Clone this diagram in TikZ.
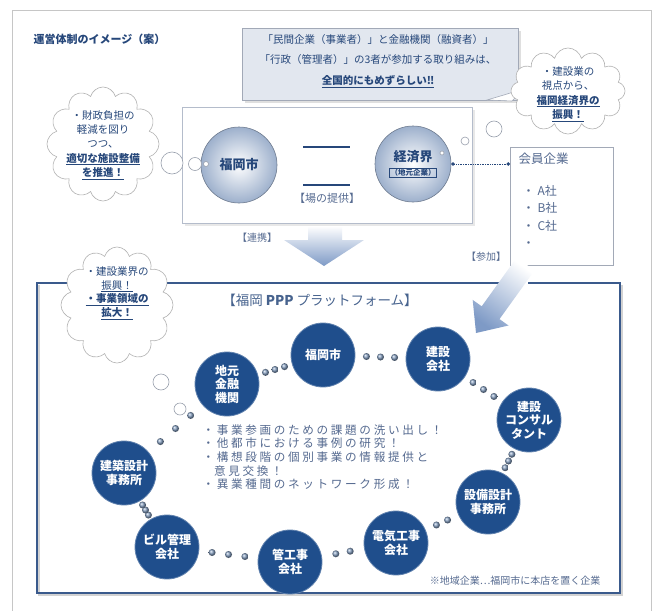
\documentclass[tikz,border=0pt]{standalone}
\usepackage{fontspec}
\setmainfont{Noto Sans CJK JP}
\usetikzlibrary{shapes.symbols,arrows.meta,calc}

\definecolor{navy}{HTML}{26477A}
\definecolor{platblue}{HTML}{1F4E8C}
\definecolor{framegray}{HTML}{C6C6C6}
\definecolor{boxgray}{HTML}{B4BCCB}
\definecolor{calloutfill}{HTML}{E2E7EF}
\definecolor{softtext}{HTML}{556A90}
\definecolor{spheredge}{HTML}{9DB0CC}
\definecolor{arrowblue}{HTML}{7E9AC6}
\definecolor{platline}{HTML}{3A5A8C}

\tikzset{
  platnode/.style={circle, fill=platblue, draw=platblue!70!white, line width=0.8pt,
    minimum size=64pt, inner sep=0pt, text=white,
    font=\bfseries\fontsize{12}{13.5}\selectfont, align=center},
  spherenode/.style={circle, draw=spheredge!70!black, line width=0.6pt,
    inner color=white, outer color=spheredge, minimum size=76pt, inner sep=0pt,
    text=navy, font=\bfseries\fontsize{13}{15}\selectfont, align=center},
  linkdot/.style={circle, inner sep=0pt, minimum size=#1, ball color=platblue!55},
  thought/.style={circle, draw=boxgray!85!black, fill=white, line width=0.6pt,
    inner sep=0pt, minimum size=#1},
  cloudbg/.style={cloud, cloud puffs=12, cloud ignores aspect, draw=gray!60,
    fill=white, line width=0.6pt, inner sep=0pt},
  cloudtxt/.style={text=navy, font=\fontsize{10.5}{14.3}\selectfont, align=center},
  lbl/.style={text=softtext, font=\fontsize{10}{12}\selectfont},
  plainbox/.style={draw=boxgray, fill=white, line width=0.7pt, inner sep=0pt, anchor=north west},
}

\begin{document}
\begin{tikzpicture}[x=1pt,y=-1pt]
\useasboundingbox (0,0) rectangle (658,610);
\fill[white] (0,0) rectangle (658,610);

% outer frame
\draw[framegray, line width=1pt] (12,620) -- (12,11) -- (651,11) -- (651,620);

% title
\node[anchor=west, text=navy, font=\bfseries\fontsize{11}{13}\selectfont] (title) at (30,39) {運営体制のイメージ（案）};

% top callout
\fill[gray!25] (245,31) rectangle (521,103);
\node[plainbox, draw=boxgray!90!black, fill=calloutfill, minimum width=276pt, minimum height=72pt] (callout) at (242,28) {};
\draw[boxgray!90!black, fill=white, line width=0.6pt] (487,100) .. controls (500,96) and (512,93) .. (524,88) .. controls (519,94) and (515,98) .. (512,101) -- cycle;
\node[text=navy, align=center, font=\fontsize{10.5}{20.5}\selectfont] (calltext) at (378,61)
  {「民間企業（事業者）」と金融機関（融資者）」\\「行政（管理者）」の3者が参加する取り組みは、\\\underline{\textbf{全国的にもめずらしい‼}}};

% inner box
\fill[gray!18] (185,110) rectangle (475,226);
\node[plainbox, minimum width=290pt, minimum height=116pt] (inner) at (182,107) {};

% left cloud
\node[cloudbg, minimum width=112pt, minimum height=114pt] (cloudL) at (103,144) {};
\node[cloudtxt] (cloudLt) at (103,145) {・財政負担の\\軽減を図り\\つつ、\\\underline{\textbf{適切な施設整備}}\\\underline{\textbf{を推進！}}};

% spheres
\node[spherenode] (city) at (239,165) {福岡市};
\node[spherenode] (econ) at (413,164) {経済界\\[-1pt]{\setlength\fboxsep{0.8pt}\fontsize{7.5}{8}\selectfont\fbox{（地元企業）}}};

\node[thought=22pt] (b1) at (172,163) {};
\node[thought=13pt] (b2) at (195,164) {};
\node[thought=5pt] (b3) at (206,164) {};

% right cloud
\node[cloudbg, minimum width=114pt, minimum height=86pt] (cloudR) at (568,91) {};
\node[cloudtxt] (cloudRt) at (568,94) {・建設業の\\視点から、\\\underline{\textbf{福岡経済界の}}\\\underline{\textbf{振興！}}};
\node[thought=4pt] (r1) at (442,153) {};
\node[thought=8pt] (r2) at (465,141) {};
\node[thought=16pt] (r3) at (494,129) {};

% equal bars and labels
\draw[navy, line width=2.6pt] (303,147) -- (350,147);
\draw[navy, line width=2.6pt] (303,185) -- (350,185);
\node[lbl, font=\fontsize{11}{13}\selectfont] (place) at (327,198) {【場の提供】};
\node[lbl] (renkei) at (257,238) {【連携】};
\node[lbl] (sanka) at (486,257) {【参加】};

% member box
\node[plainbox, draw=boxgray!90!black, minimum width=103pt, minimum height=118pt] (members) at (510,147) {};
\node[anchor=north west, text=softtext, font=\fontsize{12.5}{14}\selectfont] (memtitle) at (515,149) {会員企業};
\node[anchor=north west, align=left, text=softtext, font=\fontsize{12}{17.3}\selectfont] (memlist) at (519,182) {・\hspace{3pt}A社\\・\hspace{3pt}B社\\・\hspace{3pt}C社\\・};

\draw[navy, densely dotted, line width=0.7pt, {Circle[length=3.5pt]}-{Circle[length=3.5pt]}] (econ.east) -- (econ.east -| members.west);

% big down chevron
\shade[top color=white, bottom color=arrowblue] (308,226) -- (342,226) -- (342,240) -- (364,240) -- (324,266) -- (284,240) -- (308,240) -- cycle;

% platform box
\draw[gray!35, line width=2pt] (39,285) -- (39,595) -- (622,595) -- (622,285);
\draw[platline, line width=2.5pt] (500,283) -- (37,283) -- (37,593) -- (620,593) -- (620,283) -- (528,283);

% diagonal arrow
\shade[shading=axis, top color=white, bottom color=arrowblue, shading angle=-36]
  (476,333) -- (508.5,325.5) -- (499.5,319.1) -- (534.5,270.4) -- (516.7,257.6) -- (481.7,306.3) -- (472.7,299.9) -- cycle;

% lower-left cloud
\node[cloudbg, minimum width=112pt, minimum height=116pt] (cloudB) at (117,305) {};
\node[cloudtxt, font=\fontsize{10.5}{13.8}\selectfont] (cloudBt) at (117,293) {・建設業界の\\\underline{振興！}\\\underline{\textbf{・事業領域の}}\\\underline{\textbf{拡大！}}};
\node[thought=16pt] (bb1) at (161,382) {};
\node[thought=12pt] (bb2) at (180,409) {};

% platform title
\node[text=navy!85, font=\fontsize{13.5}{15}\selectfont] (plattitle) at (320,300) {【福岡 \textbf{PPP} プラットフォーム】};

% platform nodes
\node[platnode] (p1) at (323,355) {福岡市};
\node[platnode] (p2) at (438,359) {建設\\会社};
\node[platnode] (p3) at (529,420) {建設\\コンサル\\タント};
\node[platnode] (p4) at (488,502) {設備設計\\事務所};
\node[platnode] (p5) at (396,543) {電気工事\\会社};
\node[platnode] (p6) at (290,562) {管工事\\会社};
\node[platnode] (p7) at (167,547) {ビル管理\\会社};
\node[platnode] (p8) at (124,473) {建築設計\\事務所};
\node[platnode] (p9) at (227,384) {地元\\金融\\機関};

% chain dots
\foreach \a/\b in {p9/p1,p1/p2,p2/p3,p3/p4,p6/p7,p7/p8,p8/p9} {
  \path (\a) -- (\b) node[linkdot=7pt, pos=0.22] {} node[linkdot=7pt, pos=0.5] {} node[linkdot=7pt, pos=0.78] {};
}
\foreach \a/\b in {p4/p5,p5/p6} {
  \path (\a) -- (\b) node[linkdot=7pt, pos=0.33] {} node[linkdot=7pt, pos=0.67] {};
}

% center text
\node[anchor=north west, align=left, text=softtext, font=\fontsize{11.6}{13.6}\selectfont\addfontfeature{LetterSpace=23}] (tasks) at (199,421)
  {・事業参画のための課題の洗い出し！\\・他都市における事例の研究！\\・構想段階の個別事業の情報提供と\\\phantom{・}意見交換！\\・異業種間のネットワーク形成！};

% note
\node[anchor=east, text=softtext, font=\fontsize{10}{12}\selectfont] (note) at (604,581) {※地域企業…福岡市に本店を置く企業};
\end{tikzpicture}
\end{document}
